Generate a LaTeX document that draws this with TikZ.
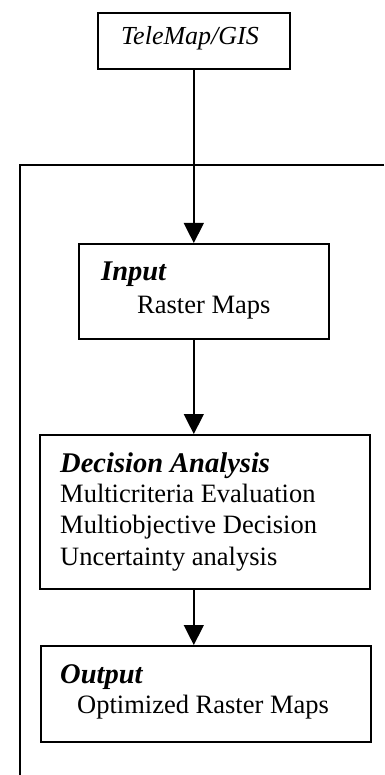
\documentclass[tikz,border=0pt]{standalone}
\usepackage{fontspec}
\setmainfont{Liberation Serif}
\usetikzlibrary{arrows.meta}
\tikzset{
  box/.style={draw, line width=1.6pt, inner sep=0pt, anchor=north west},
  flow/.style={line width=1.4pt, -{Triangle[width=20pt,length=20pt]}},
  txt/.style={anchor=base west, inner sep=0pt, font=\fontsize{26.5}{30}\selectfont},
  head/.style={anchor=base west, inner sep=0pt, font=\fontsize{28.5}{30}\selectfont\bfseries\itshape},
}
\begin{document}
\begin{tikzpicture}[x=1pt, y=-1pt]
\useasboundingbox (0,0) rectangle (384,775);
% outer frame, open to the right and bottom
\coordinate (fr) at (384,165);
\coordinate (fc) at (20,165);
\coordinate (fb) at (20,775);
\draw[line width=1.6pt] (fr) -- (fc) -- (fb);
% boxes
\node[box, minimum width=192pt, minimum height=56pt] (tele) at (97,12) {};
\node[box, minimum width=250pt, minimum height=95pt] (input) at (78,243) {};
\node[box, minimum width=330pt, minimum height=154pt] (dec) at (39,434) {};
\node[box, minimum width=330pt, minimum height=96pt] (out) at (40,645) {};
% labels
\node[anchor=base, inner sep=0pt, font=\fontsize{26}{30}\selectfont\itshape] (tl) at (190,45) {TeleMap/GIS};
\node[head] (ih) at (101,280) {Input};
\node[txt] (i1) at (137,313) {Raster Maps};
\node[head] (dh) at (60,472) {Decision Analysis};
\node[txt] (d1) at (60,502) {Multicriteria Evaluation};
\node[txt] (d2) at (60,533) {Multiobjective Decision};
\node[txt] (d3) at (60,565) {Uncertainty analysis};
\node[head] (oh) at (60,683) {Output};
\node[txt] (o1) at (77,713) {Optimized Raster Maps};
% connectors along the common vertical axis
\draw[flow] (tele.south) -- (tele.south |- input.north);
\draw[flow] (tele.south |- input.south) -- (tele.south |- dec.north);
\draw[flow] (tele.south |- dec.south) -- (tele.south |- out.north);
\end{tikzpicture}
\end{document}
